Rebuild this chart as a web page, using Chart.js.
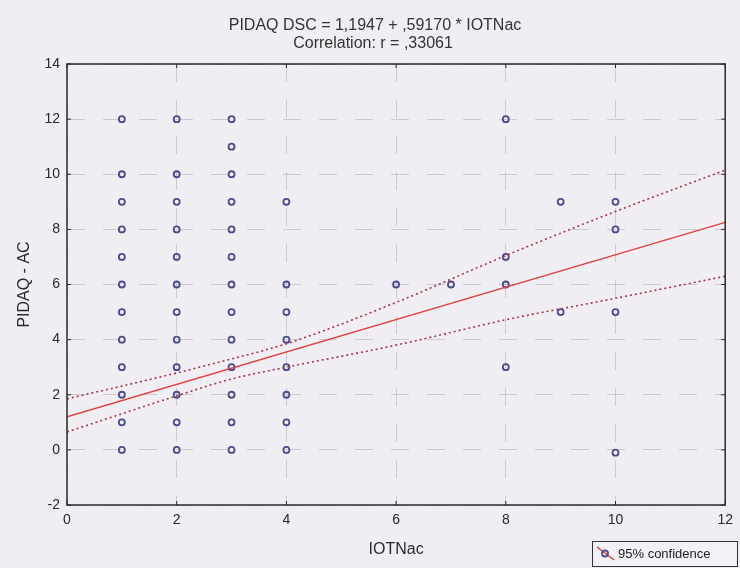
<!DOCTYPE html>
<html>
<head>
<meta charset="utf-8">
<script src="https://cdn.jsdelivr.net/npm/chart.js@4.4.1/dist/chart.umd.min.js"></script>
<style>
  html, body { margin: 0; padding: 0; background: #f1eef3; }
  #wrap { width: 740px; height: 568px; position: relative; }
</style>
</head>
<body>
<div id="wrap"><canvas id="chart" width="740" height="568"></canvas></div>
<script>
// observed points, one list of y values per x column
const columnX = [1, 2, 3, 4, 6, 7, 8, 9, 10];
const columnY = [
  [0, 1, 2, 3, 4, 5, 6, 7, 8, 9, 10, 12],
  [0, 1, 2, 3, 4, 5, 6, 7, 8, 9, 10, 12],
  [0, 1, 2, 3, 4, 5, 6, 7, 8, 9, 10, 11, 12],
  [0, 1, 2, 3, 4, 5, 6, 9],
  [6],
  [6],
  [3, 6, 7, 12],
  [5, 9],
  [-0.1, 5, 8, 9],
];

// fitted line and 95% confidence band
const fitX = [0, 12];
const fitY = [1.2, 8.25];
const bandX = [0, 2, 3, 4, 6, 8, 10, 12];
const bandUpper = [1.85, 2.79, 3.3, 3.85, 5.35, 7.05, 8.65, 10.15];
const bandLower = [0.65, 1.96, 2.57, 3.0, 3.8, 4.72, 5.5, 6.3];

const titleLines = ["PIDAQ DSC = 1,1947 + ,59170 * IOTNac", "Correlation: r = ,33061"];
const xTitle = "IOTNac";
const yTitle = "PIDAQ - AC";
const legendText = "95% confidence";

const FONT = "'Liberation Sans', Arial, sans-serif";
const textColor = "#2a2a2a";
const pointColor = "#4b4c8c";
const fitColor = "#e0403f";
const bandColor = "#a3344a";

const scatterPts = [];
columnX.forEach((x, i) => columnY[i].forEach(y => scatterPts.push({ x: x, y: y })));
const fitPts = fitX.map((x, i) => ({ x: x, y: fitY[i] }));
const upperPts = bandX.map((x, i) => ({ x: x, y: bandUpper[i] }));
const lowerPts = bandX.map((x, i) => ({ x: x, y: bandLower[i] }));

// title, frame with inward ticks on all four sides, legend box
const framePlugin = {
  id: "frame",
  afterDraw(chart) {
    const { ctx, chartArea: a, scales } = chart;
    ctx.save();

    ctx.fillStyle = "#333";
    ctx.font = "16px " + FONT;
    ctx.textAlign = "center";
    ctx.textBaseline = "middle";
    ctx.fillText(titleLines[0], 375, 26);
    ctx.fillText(titleLines[1], 373, 44);

    ctx.strokeStyle = "#2a2a2a";
    ctx.lineWidth = 1.5;
    ctx.strokeRect(a.left, a.top, a.right - a.left, a.bottom - a.top);
    ctx.lineWidth = 1;
    scales.x.ticks.forEach(t => {
      const px = scales.x.getPixelForValue(t.value);
      ctx.beginPath();
      ctx.moveTo(px, a.bottom); ctx.lineTo(px, a.bottom - 4);
      ctx.moveTo(px, a.top); ctx.lineTo(px, a.top + 4);
      ctx.stroke();
    });
    scales.y.ticks.forEach(t => {
      const py = scales.y.getPixelForValue(t.value);
      ctx.beginPath();
      ctx.moveTo(a.left, py); ctx.lineTo(a.left + 4, py);
      ctx.moveTo(a.right, py); ctx.lineTo(a.right - 4, py);
      ctx.stroke();
    });

    // legend
    const bx = 592, by = 541, bw = 145, bh = 25;
    ctx.fillStyle = "#f3f1f5";
    ctx.fillRect(bx, by, bw, bh);
    ctx.strokeStyle = "#333";
    ctx.lineWidth = 1;
    ctx.strokeRect(bx + 0.5, by + 0.5, bw, bh);
    ctx.strokeStyle = fitColor;
    ctx.lineWidth = 1.5;
    ctx.beginPath();
    ctx.moveTo(bx + 5, by + 6); ctx.lineTo(bx + 22, by + 19);
    ctx.stroke();
    ctx.strokeStyle = pointColor;
    ctx.lineWidth = 1.8;
    ctx.beginPath();
    ctx.arc(bx + 13, by + 12.5, 3, 0, Math.PI * 2);
    ctx.stroke();
    ctx.fillStyle = "#222";
    ctx.font = "13px " + FONT;
    ctx.textAlign = "left";
    ctx.fillText(legendText, bx + 26, by + 13.5);
    ctx.restore();
  }
};

const gridOpts = {
  color: "rgba(150,148,160,0.4)",
  lineWidth: 1,
  drawTicks: false,
};

new Chart(document.getElementById("chart"), {
  type: "scatter",
  data: {
    datasets: [
      {
        label: "fit",
        type: "line",
        data: fitPts,
        borderColor: fitColor,
        borderWidth: 1.3,
        pointRadius: 0,
        fill: false,
      },
      {
        label: "upper",
        type: "line",
        data: upperPts,
        borderColor: bandColor,
        borderWidth: 1.6,
        borderDash: [2, 3],
        pointRadius: 0,
        cubicInterpolationMode: "monotone",
        fill: false,
      },
      {
        label: "lower",
        type: "line",
        data: lowerPts,
        borderColor: bandColor,
        borderWidth: 1.6,
        borderDash: [2, 3],
        pointRadius: 0,
        cubicInterpolationMode: "monotone",
        fill: false,
      },
      {
        label: "points",
        data: scatterPts,
        pointStyle: "circle",
        pointRadius: 3,
        pointBorderWidth: 1.8,
        pointBorderColor: pointColor,
        pointBackgroundColor: "rgba(0,0,0,0)",
      },
    ],
  },
  options: {
    responsive: false,
    animation: false,
    layout: { padding: { top: 64, right: 12, left: 0, bottom: 0 } },
    plugins: {
      legend: { display: false },
      tooltip: { enabled: false },
      title: { display: false },
    },
    scales: {
      x: {
        type: "linear",
        min: 0,
        max: 12,
        ticks: {
          stepSize: 2,
          color: textColor,
          font: { family: FONT, size: 14 },
          padding: 7,
        },
        grid: gridOpts,
        border: { display: false, dash: [18, 18] },
        title: {
          display: true,
          text: xTitle,
          color: textColor,
          font: { family: FONT, size: 16 },
          padding: { top: 0, bottom: 9 },
        },
        afterFit(scale) { scale.height = 63; },
      },
      y: {
        type: "linear",
        min: -2,
        max: 14,
        ticks: {
          stepSize: 2,
          color: textColor,
          font: { family: FONT, size: 14 },
          padding: 7,
        },
        grid: gridOpts,
        border: { display: false, dash: [18, 18] },
        title: {
          display: true,
          text: yTitle,
          color: textColor,
          font: { family: FONT, size: 16 },
          padding: { top: 15, bottom: 0 },
        },
        afterFit(scale) { scale.width = 67; },
      },
    },
  },
  plugins: [framePlugin],
});
</script>
</body>
</html>
